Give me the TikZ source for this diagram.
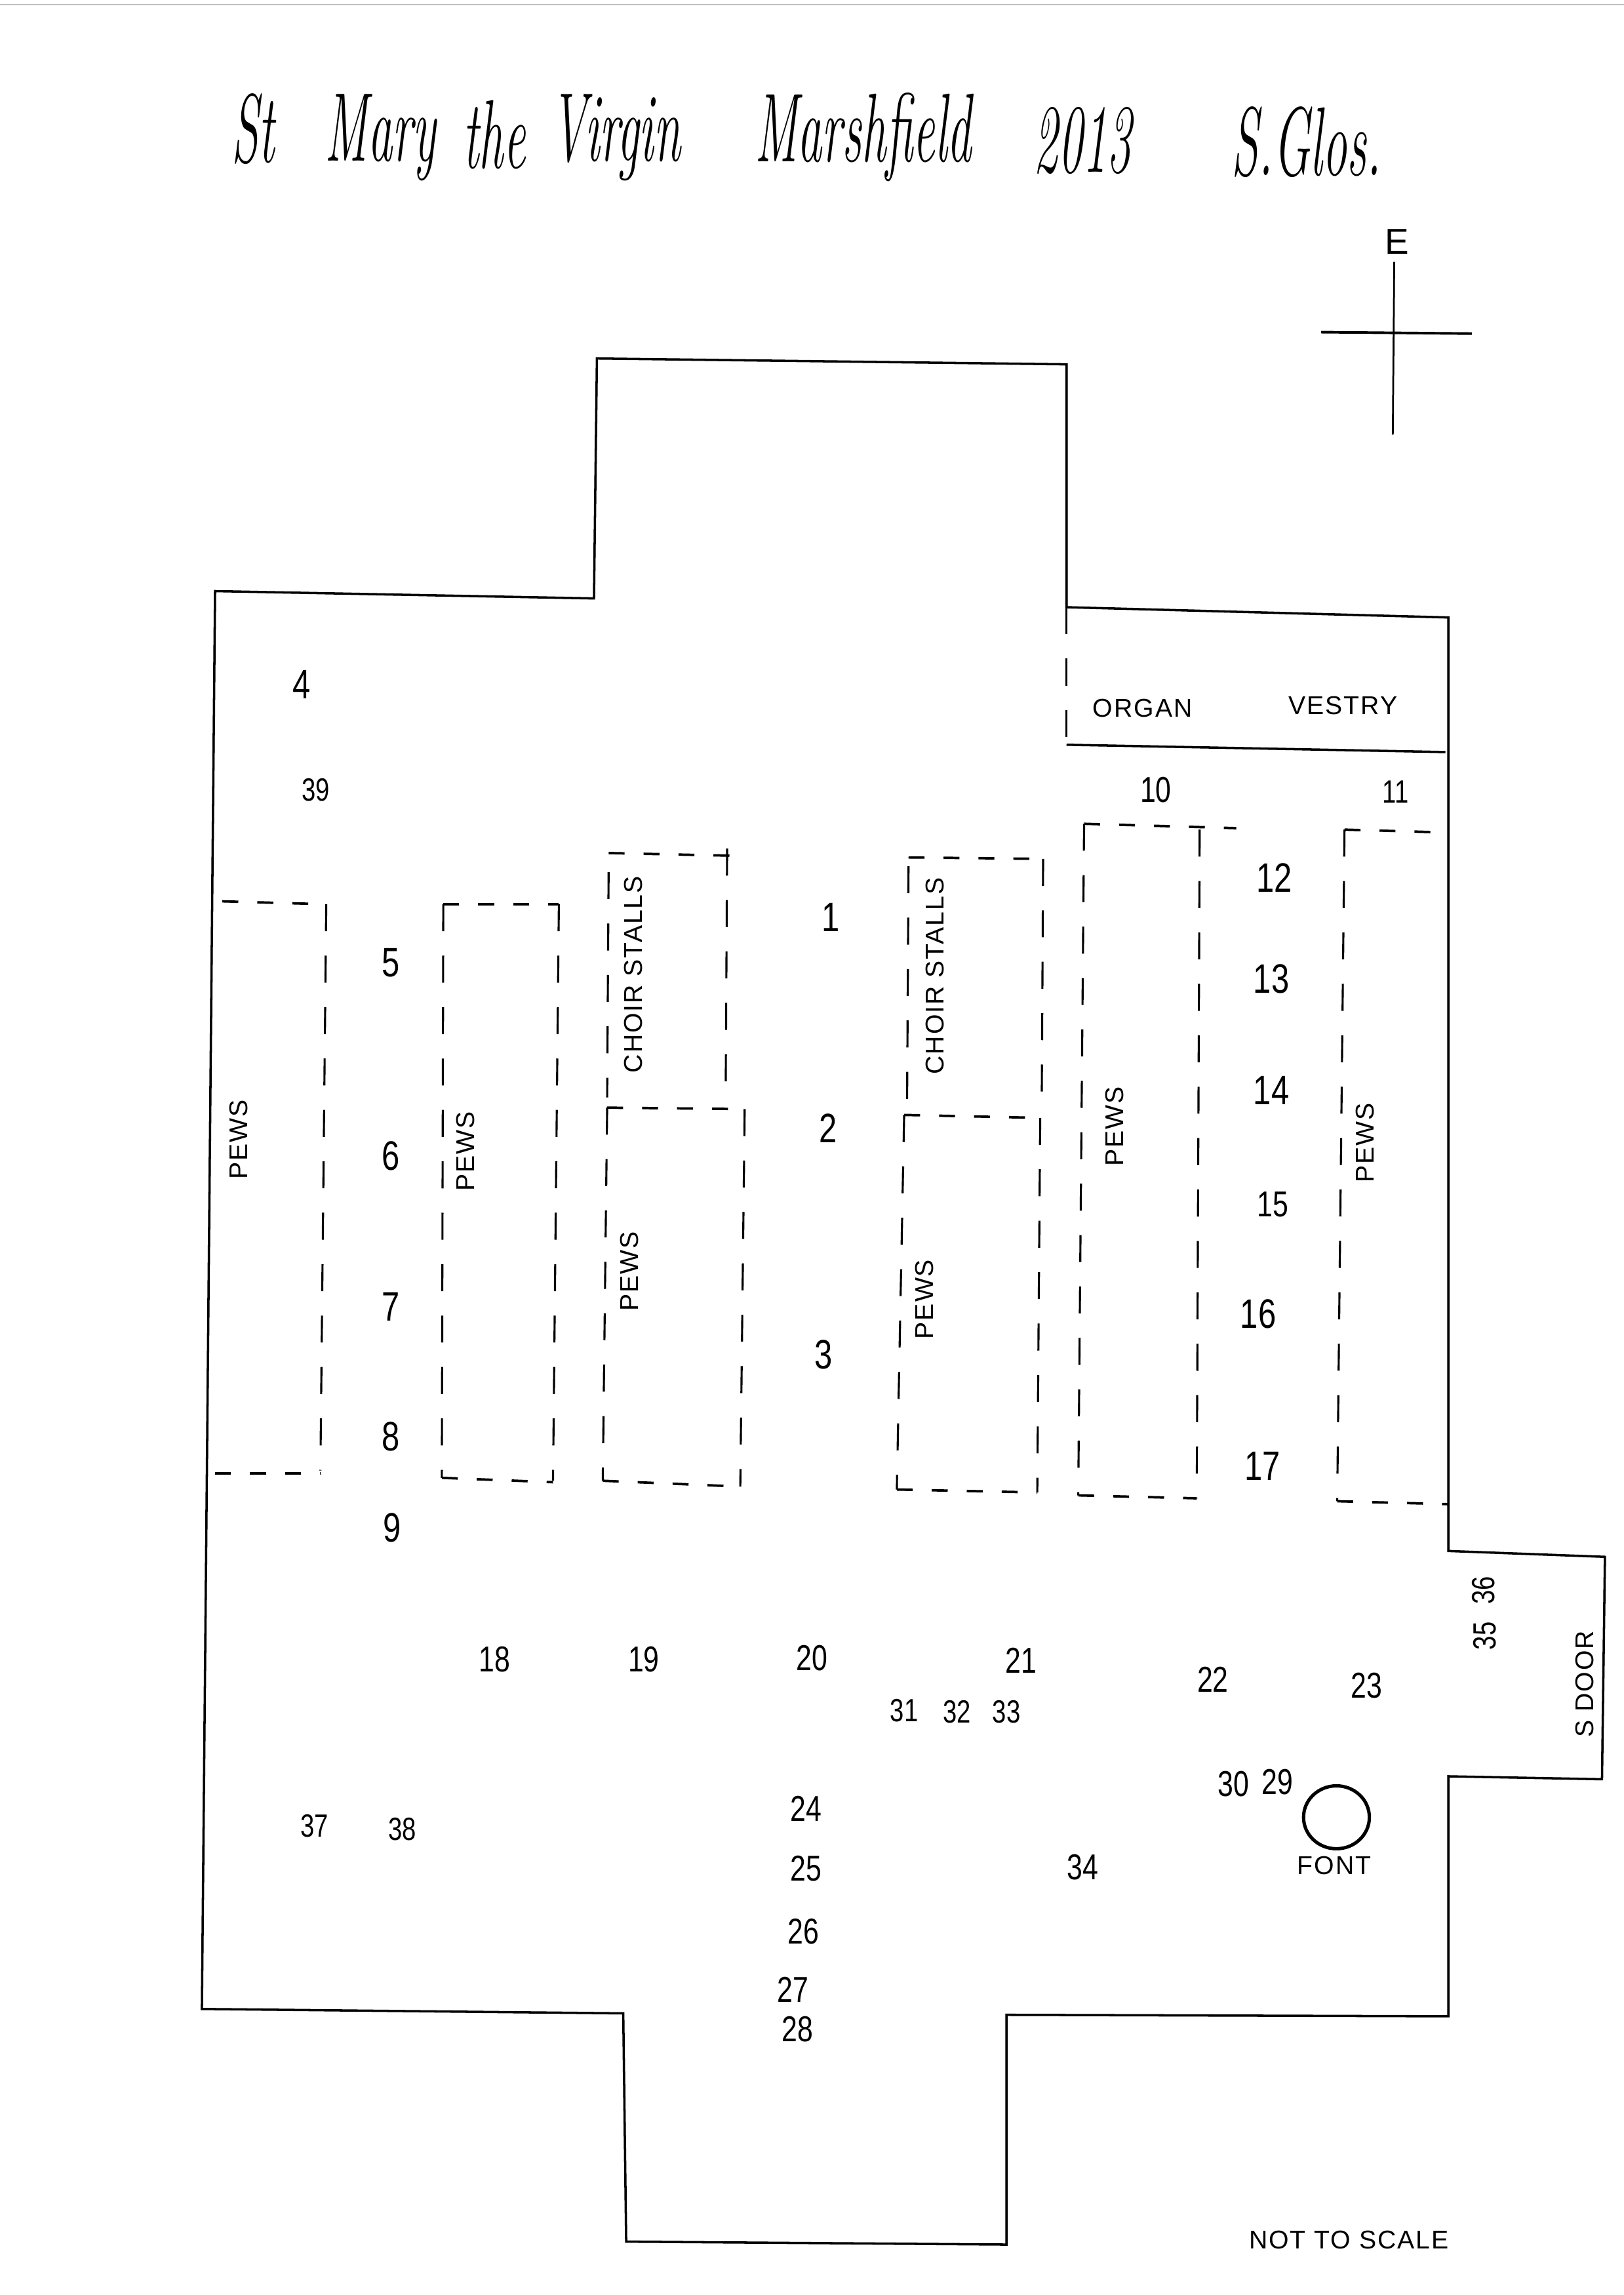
\documentclass[tikz,border=0pt]{standalone}
\usepackage{fontspec}
\usepackage{xcolor}
\usepackage{tikz}
\setsansfont{Liberation Sans}
\newfontfamily\capsfont[LetterSpace=5]{Liberation Sans}
\newfontfamily\numfont[FakeStretch=0.78]{Liberation Sans}
\newcommand{\handtitle}[1]{\scalebox{0.5}[1]{\fontsize{38}{40}\selectfont\itshape #1}}
\tikzset{
  wall/.style={draw=black,line width=0.9pt,line join=miter},
  hdash/.style={draw=black,line width=0.95pt,dash pattern=on 6.2pt off 7.4pt},
  vdash/.style={draw=black,line width=0.8pt,dash pattern=on 10.5pt off 9.5pt},
  bignum/.style={inner sep=0pt,font=\numfont\fontsize{16}{16}\selectfont},
  midnum/.style={inner sep=0pt,font=\numfont\fontsize{14}{14}\selectfont},
  smallnum/.style={inner sep=0pt,font=\numfont\fontsize{12.5}{13}\selectfont},
  caps/.style={inner sep=0pt,font=\capsfont\fontsize{10}{11}\selectfont},
}
\begin{document}
\begin{tikzpicture}[x=0.02cm,y=-0.02cm]
\useasboundingbox (0,0) rectangle (1110,1568.5);
\fill[white] (0,0) rectangle (1110,1568.5);
\draw[black!25,line width=0.5pt] (0,3) -- (1110,3);
% title
\node[inner sep=0pt] (titlest) at (173,88) {\handtitle{St}};
\node[inner sep=0pt] (titlemary) at (260,94) {\handtitle{Mary}};
\node[inner sep=0pt] (titlethe) at (338,92) {\handtitle{the}};
\node[inner sep=0pt] (titlevirgin) at (421,94) {\handtitle{Virgin}};
\node[inner sep=0pt] (titlemarsh) at (590,94) {\handtitle{Marshfield}};
\node[inner sep=0pt] (titleyear) at (740,96) {\handtitle{2013}};
\node[inner sep=0pt] (titleglos) at (893,97) {\handtitle{S.Glos.}};
% compass
\draw[line width=0.7pt] (953,179) -- (952,297);
\draw[line width=1pt] (903,227) -- (1006,228);
\node[inner sep=0pt,font=\sffamily\fontsize{14}{14}\selectfont] (east) at (955,165) {E};
% outer wall
\draw[wall] (147,404) -- (406,409) -- (408,245) -- (729,249) -- (729,415) -- (990,422)
  -- (990,1060) -- (1097,1064) -- (1095,1216) -- (990,1214) -- (990,1378) -- (688,1377)
  -- (688,1534) -- (428,1532) -- (426,1376) -- (138,1373) -- cycle;
% organ and vestry
\draw[vdash] (729,415) -- (729,508);
\draw[wall] (729,509) -- (988,514);
% pews far left
\draw[hdash] (152,616) -- (223,618);
\draw[vdash] (223,618) -- (219,1005);
\draw[hdash] (147,1007) -- (219,1007);
% pews second
\draw[hdash] (303,618) -- (382,618);
\draw[vdash] (303,618) -- (302,1010);
\draw[vdash] (382,618) -- (378,1012);
\draw[hdash] (302,1010) -- (378,1013);
% choir stalls left
\draw[hdash] (416,583) -- (508,585);
\draw[vdash] (416,596) -- (415,750);
\draw[vdash] (497,580) -- (496,750);
% pews third
\draw[hdash] (415,757) -- (509,758);
\draw[vdash] (415,757) -- (412,1012);
\draw[vdash] (509,758) -- (506,1016);
\draw[hdash] (412,1012) -- (506,1016);
% choir stalls right
\draw[hdash] (621,586) -- (713,587);
\draw[vdash] (621,592) -- (620,755);
\draw[vdash] (713,587) -- (712,762);
% pews fourth
\draw[hdash] (618,762) -- (711,764);
\draw[vdash] (618,762) -- (613,1018);
\draw[vdash] (711,764) -- (709,1020);
\draw[hdash] (613,1018) -- (709,1020);
% pews fifth
\draw[hdash] (741,563) -- (845,566);
\draw[vdash] (741,563) -- (737,1022);
\draw[vdash] (820,567) -- (818,1024);
\draw[hdash] (737,1022) -- (818,1024);
% pews sixth
\draw[hdash] (919,567) -- (990,569);
\draw[vdash] (919,567) -- (914,1026);
\draw[hdash] (914,1026) -- (990,1028);
% font
\draw[line width=1.3pt] (913.5,1242) ellipse (22.5 and 21.5);
% texts in capitals
\node[caps] (organ) at (781,484) {ORGAN};
\node[caps] (vestry) at (918,482) {VESTRY};
\node[caps,rotate=90] (pewsa) at (163,779) {PEWS};
\node[caps,rotate=90] (pewsb) at (318,787) {PEWS};
\node[caps,rotate=90] (pewsc) at (430,869) {PEWS};
\node[caps,rotate=90] (pewsd) at (632,888) {PEWS};
\node[caps,rotate=90] (pewse) at (762,770) {PEWS};
\node[caps,rotate=90] (pewsf) at (933,781) {PEWS};
\node[caps,rotate=90] (choira) at (433,666) {CHOIR STALLS};
\node[caps,rotate=90] (choirb) at (639,667) {CHOIR STALLS};
\node[caps,rotate=90] (sdoor) at (1083,1151) {S DOOR};
\node[caps] (fontlabel) at (912,1275) {FONT};
\node[caps] (notscale) at (922,1531) {NOT TO SCALE};
% numbers
\node[bignum] (n1) at (568,627) {1};
\node[bignum] (n2) at (566,771) {2};
\node[bignum] (n3) at (563,926) {3};
\node[bignum] (n4) at (206,468) {4};
\node[bignum] (n5) at (267,658) {5};
\node[bignum] (n6) at (267,790) {6};
\node[bignum] (n7) at (267,893) {7};
\node[bignum] (n8) at (267,982) {8};
\node[bignum] (n9) at (268,1044) {9};
\node[midnum] (n10) at (790,540) {10};
\node[smallnum] (n11) at (954,541) {11};
\node[bignum] (n12) at (871,600) {12};
\node[bignum] (n13) at (869,669) {13};
\node[bignum] (n14) at (869,745) {14};
\node[midnum] (n15) at (870,823) {15};
\node[bignum] (n16) at (860,898) {16};
\node[bignum] (n17) at (863,1002) {17};
\node[midnum] (n18) at (338,1134) {18};
\node[midnum] (n19) at (440,1134) {19};
\node[midnum] (n20) at (555,1133) {20};
\node[midnum] (n21) at (698,1135) {21};
\node[midnum] (n22) at (829,1148) {22};
\node[midnum] (n23) at (934,1152) {23};
\node[midnum] (n24) at (551,1236) {24};
\node[midnum] (n25) at (551,1277) {25};
\node[midnum] (n26) at (549,1320) {26};
\node[midnum] (n27) at (542,1360) {27};
\node[midnum] (n28) at (545,1387) {28};
\node[midnum] (n29) at (873,1218) {29};
\node[midnum] (n30) at (843,1219) {30};
\node[smallnum] (n31) at (618,1169) {31};
\node[smallnum] (n32) at (654,1170) {32};
\node[smallnum] (n33) at (688,1170) {33};
\node[midnum] (n34) at (740,1276) {34};
\node[smallnum,rotate=90] (n35) at (1015,1118) {35};
\node[smallnum,rotate=90] (n36) at (1014,1087) {36};
\node[smallnum] (n37) at (215,1248) {37};
\node[smallnum] (n38) at (275,1250) {38};
\node[smallnum] (n39) at (216,540) {39};
\end{tikzpicture}
\end{document}
